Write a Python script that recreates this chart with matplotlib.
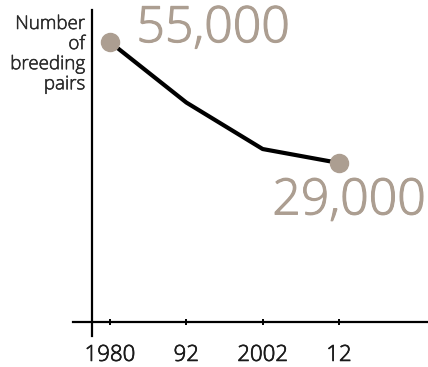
import matplotlib
matplotlib.use("Agg")
import matplotlib.pyplot as plt
import matplotlib.patheffects as pe

# Breeding pairs over time
years = ["1980", "92", "2002", "12"]
pairs = [55000, 42000, 32000, 29000]
end_labels = ["55,000", "29,000"]

TAUPE = "#AC9E91"
W, H, DPI = 428, 367, 100

plt.rcParams["font.family"] = ["Open Sans", "DejaVu Sans"]
plt.rcParams["font.weight"] = "light"


def heavier(color, w):
    # thicken the light face slightly
    return [pe.withStroke(linewidth=w, foreground=color)]


fig = plt.figure(figsize=(W / DPI, H / DPI), dpi=DPI)
ax_left, ax_right, ax_top, ax_bottom = 92, 428, 10, 322
ax = fig.add_axes([ax_left / W, (H - ax_bottom) / H,
                   (ax_right - ax_left) / W, (ax_bottom - ax_top) / H])

x = list(range(len(years)))
ax.plot(x, pairs, color="black", lw=3.0, solid_capstyle="round",
        solid_joinstyle="round", zorder=2)
ax.plot([x[0], x[-1]], [pairs[0], pairs[-1]], "o", color=TAUPE,
        markersize=13, zorder=3)

ax.set_xlim(-0.236, 4.166)
ax.set_ylim(-5200, 61900)

for s in ax.spines.values():
    s.set_visible(False)

# axis lines extending past their crossing
ax.plot([-0.0565, 1.0], [0, 0], color="black", lw=1.6,
        transform=ax.transAxes, clip_on=False)
ax.plot([0, 0], [-0.045, 1.0], color="black", lw=1.6,
        transform=ax.transAxes, clip_on=False)

ax.set_xticks(x)
ax.set_xticklabels(years, fontsize=16)
ax.tick_params(axis="x", direction="inout", length=5, width=1.4,
               pad=14, colors="black", labelcolor="#1a1a1a")
for lbl in ax.get_xticklabels():
    lbl.set_path_effects(heavier("#1a1a1a", 0.5))
ax.set_yticks([])

# end-point value labels
ax.annotate(end_labels[0], (x[0], pairs[0]), xytext=(19, 0),
            textcoords="offset points", fontsize=36, color=TAUPE,
            ha="left", va="baseline", path_effects=heavier(TAUPE, 0.8))
ax.annotate(end_labels[1], (x[-1], pairs[-1]), xytext=(-48, -37),
            textcoords="offset points", fontsize=36, color=TAUPE,
            ha="left", va="baseline", path_effects=heavier(TAUPE, 0.8))

fig.text(85 / W, 1 - 15 / H, "Number\nof\nbreeding\npairs", ha="right",
         va="top", fontsize=13.5, color="#2a2a2a", linespacing=1.15,
         path_effects=heavier("#2a2a2a", 0.4))

fig.savefig("out.png", dpi=DPI)
